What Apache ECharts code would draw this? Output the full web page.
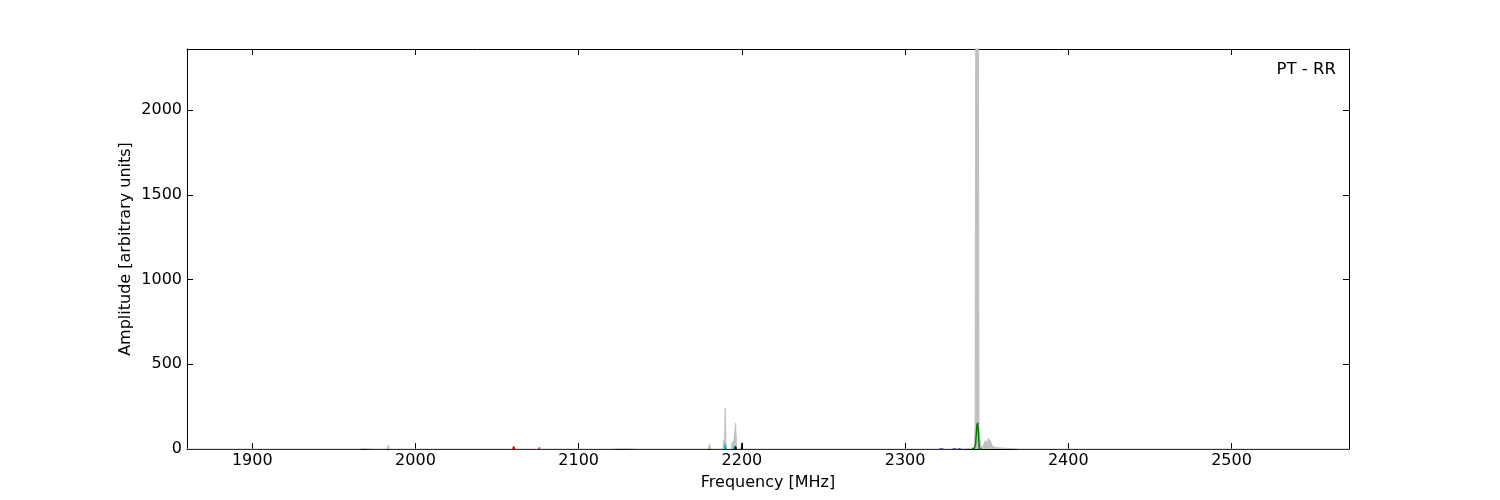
<!DOCTYPE html>
<html>
<head>
<meta charset="utf-8">
<script src="https://cdn.jsdelivr.net/npm/echarts@6/dist/echarts.min.js"></script>
<style>html,body{margin:0;padding:0;background:#fff}#c{width:1500px;height:500px}</style>
</head>
<body>
<div id="c"></div>
<script>
// ---- data ----
const xTicks = [1900, 2000, 2100, 2200, 2300, 2400, 2500];
const yTicks = [0, 500, 1000, 1500, 2000];
const panelLabel = 'PT - RR';
const xName = 'Frequency [MHz]';
const yName = 'Amplitude [arbitrary units]';

// gray total spectrum [MHz, amplitude]
const spectrum = [
  [1860, 0], [1965, 0], [1968, 2], [1972, 1], [1975, 0],
  [1982.6, 0], [1983.3, 22], [1984.0, 0],
  [2093.5, 0], [2094.0, 4], [2094.5, 0],
  [2120, 0], [2125, 2], [2132, 1], [2135, 0],
  [2147.7, 0], [2148.2, 8], [2148.7, 0],
  [2179.6, 0], [2180.2, 30], [2180.8, 0],
  [2188.3, 0], [2188.9, 52], [2189.3, 20], [2189.8, 240], [2190.3, 0],
  [2193.6, 0], [2194.1, 43], [2194.6, 5], [2195.6, 10], [2196.2, 152], [2196.7, 0],
  [2199.6, 0], [2200.0, 12], [2200.4, 0],
  [2249.1, 0], [2249.6, 10], [2250.1, 0],
  [2330, 0], [2340, 2], [2342.4, 10], [2342.9, 120], [2343.4, 3000], [2344.8, 3000],
  [2345.3, 120], [2346.2, 20], [2347.5, 12], [2348.5, 35], [2349.3, 50], [2350.2, 30],
  [2351.0, 62], [2351.8, 72], [2352.6, 40], [2353.5, 15], [2356, 8], [2360, 5], [2365, 3], [2370, 0],
  [2572, 0]
];
const greenLine = [
  [2341.0, 0], [2342.5, 4], [2343.2, 30], [2344.0, 140], [2344.5, 155], [2345.0, 80], [2345.5, 0], [2347.0, 0]
];
const redLine = [
  [2059.6, 0], [2060.2, 14], [2060.8, 0], null,
  [2075.6, 0], [2076.1, 10], [2076.6, 0]
];
const cyanLine = [
  [2189.3, 0], [2189.8, 28], [2190.3, 0], null,
  [2194.9, 0], [2195.4, 18], [2195.9, 0]
];
const blackLine = [
  [2195.8, 0], [2196.2, 16], [2196.6, 0], null,
  [2199.7, 0], [2200.0, 36], [2200.3, 0]
];
const oliveLine = [
  [2179.8, 0], [2180.2, 8], [2180.6, 0]
];
const blueLine = [
  [2321, 2], [2324, 3], null, [2329, 2], [2334, 3]
];

// ---- chart ----
const font = 'DejaVu Sans';
const chart = echarts.init(document.getElementById('c'), null, {renderer: 'canvas'});
const axLine = {show: true, onZero: false, lineStyle: {color: '#000', width: 1}};
const plain = v => String(v);
function xAx(pos, labels) {
  return {
    type: 'value', position: pos, min: 1860, max: 2572,
    name: labels ? xName : '', nameLocation: 'middle', nameGap: 26, nameMoveOverlap: false,
    nameTextStyle: {fontFamily: font, fontSize: 16, color: '#000'},
    axisLine: axLine,
    axisTick: {show: true, inside: true, length: 6, customValues: xTicks, lineStyle: {color: '#000'}},
    axisLabel: {show: labels, customValues: xTicks, formatter: plain, margin: 4, fontFamily: font, fontSize: 16, color: '#000'},
    splitLine: {show: false}
  };
}
function yAx(pos, labels) {
  return {
    type: 'value', position: pos, min: 0, max: 2360,
    name: labels ? yName : '', nameLocation: 'middle', nameGap: 53, nameMoveOverlap: false,
    nameTextStyle: {fontFamily: font, fontSize: 16, color: '#000'},
    axisLine: axLine,
    axisTick: {show: true, inside: true, length: 6, customValues: yTicks, lineStyle: {color: '#000'}},
    axisLabel: {show: labels, customValues: yTicks, formatter: plain, margin: 5, fontFamily: font, fontSize: 16, color: '#000'},
    splitLine: {show: false}
  };
}
function lineSeries(data, color, width, extra) {
  return Object.assign({
    type: 'line', data: data, showSymbol: false, symbol: 'none', connectNulls: false,
    xAxisIndex: 0, yAxisIndex: 0, clip: true, animation: false,
    lineStyle: {color: color, width: width}, itemStyle: {color: color}
  }, extra || {});
}
chart.setOption({
  animation: false,
  grid: {left: 187, right: 151, top: 49, bottom: 51, containLabel: false},
  xAxis: [xAx('bottom', true), xAx('top', false)],
  yAxis: [yAx('left', true), yAx('right', false)],
  series: [
    lineSeries(spectrum, '#bfbfbf', 1, {areaStyle: {color: '#bfbfbf', opacity: 1}}),
    lineSeries(blueLine, '#0000bf', 1, {lineStyle: {color: '#0000bf', width: 1, type: 'dashed', opacity: 0.6}}),
    lineSeries(oliveLine, '#bfbf00', 1.5),
    lineSeries(redLine, '#ff0000', 1.5),
    lineSeries(cyanLine, '#00bfbf', 1.5),
    lineSeries(blackLine, '#000000', 1.2),
    lineSeries(greenLine, '#008000', 1.5)
  ],
  graphic: [{
    type: 'text', right: 164, top: 61,
    style: {text: panelLabel, fontFamily: font, fontSize: 16.5, fill: '#000'}
  }]
});
</script>
</body>
</html>
